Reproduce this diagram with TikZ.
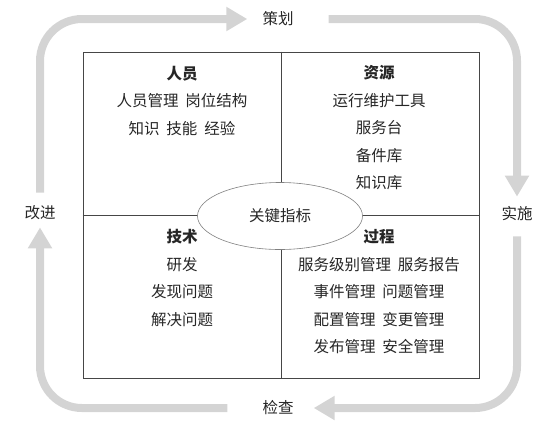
\documentclass[tikz,border=0pt]{standalone}
\usepackage{fontspec}
\setmainfont{Noto Sans CJK SC}
\usetikzlibrary{shapes.geometric, arrows.meta}
\definecolor{loopgray}{RGB}{212,212,212}
\definecolor{framegray}{RGB}{70,70,70}
\newcommand{\wordgap}{\hspace{0.45em}}

\begin{document}
\begin{tikzpicture}[x=1bp, y=-1bp,
    every node/.style={font=\fontsize{15.5bp}{27.5bp}\selectfont, text=black!85},
    loop arrow/.style={line width=8bp, draw=loopgray, rounded corners=42bp,
      -{Triangle[length=21bp, width=23bp]}},
    phase/.style={inner sep=0pt},
    quad/.style={align=center, inner sep=0pt}]
  \useasboundingbox (0,0) rectangle (558,425);
  % the four quadrants
  \node[draw=framegray, line width=0.8bp, minimum width=396bp, minimum height=326bp,
    inner sep=0pt] (board) at (281,215) {};
  \draw[framegray, line width=0.8bp] (board.north) -- (board.south);
  \draw[framegray, line width=0.8bp] (board.west) -- (board.east);
  % centre ellipse
  \node[ellipse, draw=gray, fill=white, line width=0.6bp, minimum width=165bp,
    minimum height=67bp, inner sep=0pt] (kpi) at (280,216) {关键指标};
  % quadrant texts
  \node[quad] (people) at (182,100.5) {\textbf{人员}\\人员管理\wordgap 岗位结构\\知识\wordgap 技能\wordgap 经验};
  \node[quad] (resource) at (379,128) {\textbf{资源}\\运行维护工具\\服务台\\备件库\\知识库};
  \node[quad] (tech) at (182,278) {\textbf{技术}\\研发\\发现问题\\解决问题};
  \node[quad] (process) at (379,292) {\textbf{过程}\\服务级别管理\wordgap 服务报告\\事件管理\wordgap 问题管理\\配置管理\wordgap 变更管理\\发布管理\wordgap 安全管理};
  % cycle labels
  \node[phase] (plan) at (278,19) {策划};
  \node[phase] (exec) at (517,214) {实施};
  \node[phase] (check) at (278,408) {检查};
  \node[phase] (improve) at (40,213) {改进};
  % cycle arrows
  \draw[loop arrow, shorten <=13bp, shorten >=15bp] (improve.north) |- (plan.west);
  \draw[loop arrow, shorten <=35bp, shorten >=10bp] (plan.east) -| (exec.north);
  \draw[loop arrow, shorten <=15bp, shorten >=20bp] (exec.south) |- (check.east);
  \draw[loop arrow, shorten <=35bp, shorten >=7bp] (check.west) -| (improve.south);
\end{tikzpicture}
\end{document}
